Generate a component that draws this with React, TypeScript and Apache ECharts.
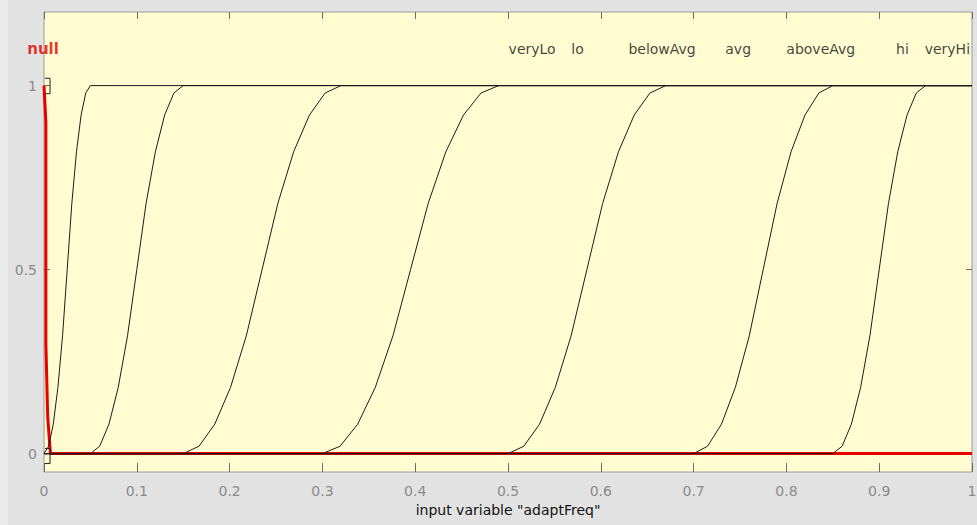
import React, { useEffect, useRef } from "react";
import * as echarts from "echarts";

// tick values
const yTickValues = [0, 0.5, 1];

// membership-function names
const mfNames = ["veryLo", "lo", "belowAvg", "avg", "aboveAvg", "hi", "veryHi"];

// y values along the rising part of each S-shaped curve
const riseY = [0, 0.02, 0.08, 0.18, 0.32, 0.5, 0.68, 0.82, 0.92, 0.98, 1];

// x positions along each rising part
const veryLoX = [0, 0.005, 0.01, 0.015, 0.02, 0.025, 0.03, 0.035, 0.04, 0.045, 0.05];
const loX = [0.05, 0.06, 0.07, 0.08, 0.09, 0.1, 0.11, 0.12, 0.13, 0.14, 0.15];
const belowAvgX = [0.15, 0.167, 0.184, 0.201, 0.218, 0.235, 0.252, 0.269, 0.286, 0.303, 0.32];
const avgX = [0.3, 0.319, 0.338, 0.357, 0.376, 0.395, 0.414, 0.433, 0.452, 0.471, 0.49];
const aboveAvgX = [0.5, 0.517, 0.534, 0.551, 0.568, 0.585, 0.602, 0.619, 0.636, 0.653, 0.67];
const hiX = [0.7, 0.715, 0.73, 0.745, 0.76, 0.775, 0.79, 0.805, 0.82, 0.835, 0.85];
const veryHiX = [0.85, 0.86, 0.87, 0.88, 0.89, 0.9, 0.91, 0.92, 0.93, 0.94, 0.95];
const riseXs = [veryLoX, loX, belowAvgX, avgX, aboveAvgX, hiX, veryHiX];

// "null" membership function (red)
const nullX = [0, 0.002, 0.002, 0.004, 0.006, 0.007, 1];
const nullY = [1, 0.9, 0.3, 0.1, 0.03, 0, 0];

// small selection brackets at x = 0
const bracketTopX = [0.001, 0.0065, 0.0065, 0.001];
const bracketTopY = [1.02, 1.02, 0.978, 0.978];
const bracketBotX = [0.001, 0.0065, 0.0065, 0.001];
const bracketBotY = [0.014, 0.014, -0.027, -0.027];

// label anchors (data coordinates)
const labelX = [0.526, 0.575, 0.666, 0.748, 0.837, 0.925, 0.949];
const labelY = 1.1;
const nullLabelX = -0.001;
const nullLabelY = 1.1;

const FONT = "DejaVu Sans";

const GRID_TOP = 12;
const GRID_BOTTOM = 53;
const GRID_H = 525 - GRID_TOP - GRID_BOTTOM;
const TOP_TICK = 7;
const BOTTOM_TICK = 9;

export default function App() {
  const ref = useRef<HTMLDivElement>(null);

  useEffect(() => {
    document.body.style.margin = "0";
    if (!ref.current) return;
    const chart = echarts.init(ref.current, null, { renderer: "svg" });

    const curveSeries = riseXs.map((xs, i) => {
      const pts: number[][] = [];
      if (xs[0] > 0) pts.push([0, 0]);
      xs.forEach((x, k) => pts.push([x, riseY[k]]));
      pts.push([1, 1]);
      return {
        name: mfNames[i],
        type: "line",
        data: pts,
        showSymbol: false,
        silent: true,
        z: 5,
        lineStyle: { color: "#1c1c1c", width: 1 },
      };
    });

    const tickStyle = { color: "#6a6a6a", width: 1 };

    const option: any = {
      animation: false,
      backgroundColor: "#e2e2e2",
      grid: {
        left: 44,
        right: 5,
        top: GRID_TOP,
        bottom: GRID_BOTTOM,
        outerBoundsMode: "none",
        containLabel: false,
        show: true,
        backgroundColor: "#fffcd2",
        borderColor: "#9a9a9a",
        borderWidth: 1,
      },
      xAxis: [
        {
          type: "value",
          min: 0,
          max: 1,
          interval: 0.1,
          position: "bottom",
          axisLine: { show: false, onZero: false },
          // ticks on both the top and bottom edges, drawn as dashed split lines
          splitLine: {
            show: true,
            lineStyle: {
              color: "#6a6a6a",
              width: 1,
              type: [TOP_TICK, GRID_H - TOP_TICK - BOTTOM_TICK, BOTTOM_TICK, 200],
            },
          },
          axisTick: { show: false },
          axisLabel: {
            show: true,
            margin: 12,
            color: "#8a8a8a",
            fontSize: 14,
            fontFamily: FONT,
          },
          name: 'input variable "adaptFreq"',
          nameLocation: "middle",
          nameGap: 31,
          nameTextStyle: { color: "#111", fontSize: 14, fontFamily: FONT },
        },
      ],
      yAxis: [
        {
          type: "value",
          min: -0.05,
          max: 1.2,
          position: "left",
          axisLine: { show: false, onZero: false },
          splitLine: { show: false },
          axisTick: {
            show: true,
            inside: true,
            length: 6,
            customValues: yTickValues,
            lineStyle: tickStyle,
          },
          axisLabel: {
            show: true,
            margin: 7,
            customValues: yTickValues,
            color: "#8a8a8a",
            fontSize: 14,
            fontFamily: FONT,
          },
        },
        {
          type: "value",
          min: -0.05,
          max: 1.2,
          position: "right",
          axisLine: { show: false, onZero: false },
          splitLine: { show: false },
          axisTick: {
            show: true,
            inside: true,
            length: 6,
            customValues: yTickValues,
            lineStyle: tickStyle,
          },
          axisLabel: { show: false },
        },
      ],
      series: [
        {
          name: "null",
          type: "line",
          data: nullX.map((x, i) => [x, nullY[i]]),
          showSymbol: false,
          silent: true,
          z: 3,
          lineStyle: { color: "#e80000", width: 3 },
        },
        ...curveSeries,
        {
          name: "bracketTop",
          type: "line",
          data: bracketTopX.map((x, i) => [x, bracketTopY[i]]),
          showSymbol: false,
          silent: true,
          clip: false,
          z: 6,
          lineStyle: { color: "#222", width: 1 },
        },
        {
          name: "bracketBot",
          type: "line",
          data: bracketBotX.map((x, i) => [x, bracketBotY[i]]),
          showSymbol: false,
          silent: true,
          clip: false,
          z: 6,
          lineStyle: { color: "#222", width: 1 },
        },
        {
          name: "labels",
          type: "scatter",
          symbolSize: 1,
          clip: false,
          silent: true,
          itemStyle: { color: "rgba(0,0,0,0)" },
          data: [
            ...labelX.map((x, i) => ({
              value: [x, labelY],
              name: mfNames[i],
              label: i === labelX.length - 1 ? { align: "left" } : {},
            })),
            {
              value: [nullLabelX, nullLabelY],
              name: "null",
              label: { color: "#e00000", fontWeight: "bold", fontSize: 15 },
            },
          ],
          label: {
            show: true,
            position: "inside",
            formatter: (p: any) => p.name,
            color: "#111",
            fontSize: 14,
            fontFamily: FONT,
            align: "center",
            verticalAlign: "middle",
          },
        },
      ],
      graphic: [
        {
          type: "rect",
          left: 0,
          top: 0,
          z: 0,
          shape: { width: 8, height: 525 },
          style: { fill: "#ebebeb" },
        },
        {
          type: "rect",
          right: 0,
          top: 13,
          z: 100,
          shape: { width: 4, height: 80 },
          style: { fill: "#e2e2e2" },
        },
      ],
    };

    chart.setOption(option);
    return () => chart.dispose();
  }, []);

  return <div ref={ref} style={{ width: 977, height: 525 }} />;
}
